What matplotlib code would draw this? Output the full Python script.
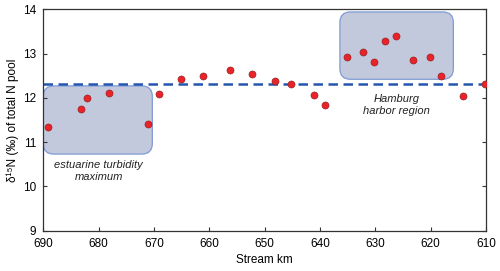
import matplotlib as mpl
mpl.use('Agg')
import matplotlib.pyplot as plt
from matplotlib.patches import FancyBboxPatch

plt.rcParams['font.family'] = ['Liberation Sans', 'DejaVu Sans']

# stream km and d15N values
km = [689.1, 683.1, 682.1, 678.1, 671.1, 669.1, 665.1, 661.1, 656.2, 652.2,
      648.2, 645.2, 641.1, 639.1, 635.1, 632.2, 630.2, 628.2, 626.2, 623.2,
      620.2, 618.2, 614.2, 610.1]
d15n = [11.35, 11.75, 12.0, 12.1, 11.4, 12.09, 12.43, 12.5, 12.64, 12.55,
        12.37, 12.32, 12.06, 11.85, 12.92, 13.04, 12.8, 13.29, 13.4, 12.86,
        12.93, 12.5, 12.04, 12.32]
mean_level = 12.32

# shaded regions: (x_start, x_end, y_low, y_high)
etm_box = (690.0, 670.3, 10.73, 12.27)
hh_box = (636.4, 615.9, 12.42, 13.94)

fig = plt.figure(figsize=(5, 2.71), dpi=100)
ax = fig.add_axes([0.0866, 0.1487, 0.8854, 0.817])

for x0, x1, y0, y1 in (etm_box, hh_box):
    p = FancyBboxPatch((x1, y0), x0 - x1, y1 - y0,
                       boxstyle='round,pad=0,rounding_size=1.9',
                       mutation_aspect=0.125,
                       facecolor='#c2c9dd', edgecolor='#7f9bd4', lw=0.9, zorder=1)
    ax.add_patch(p)

ax.axhline(mean_level, color='#2456b0', ls=(0, (3.8, 2.2)), lw=1.8, zorder=2)
ax.scatter(km, d15n, s=26, color='#e8242a', edgecolors='#8a1a1a', linewidths=0.4, zorder=3)

ax.text(680, 10.35, 'estuarine turbidity\nmaximum', style='italic', fontsize=8,
        ha='center', va='center', color='#222222', linespacing=1.3)
ax.text(626.2, 11.84, 'Hamburg\nharbor region', style='italic', fontsize=8,
        ha='center', va='center', color='#222222', linespacing=1.3)

ax.set_xlim(690, 610)
ax.set_ylim(9, 14)
ax.set_xticks(range(690, 609, -10))
ax.set_yticks(range(9, 15))
ax.tick_params(direction='in', labelsize=8.5, length=3, width=0.8, right=True, colors='#333333')
ax.tick_params(axis='both', labelcolor='black')
ax.tick_params(axis='x', pad=5)
ax.tick_params(axis='y', pad=5)
for s in ax.spines.values():
    s.set_linewidth(0.9)
    s.set_color('#333333')

ax.set_xlabel('Stream km', fontsize=8.5, labelpad=3)
ax.set_ylabel('δ¹⁵N (‰) of total N pool', fontsize=8.5, labelpad=3)

fig.savefig('out.png', dpi=100)
